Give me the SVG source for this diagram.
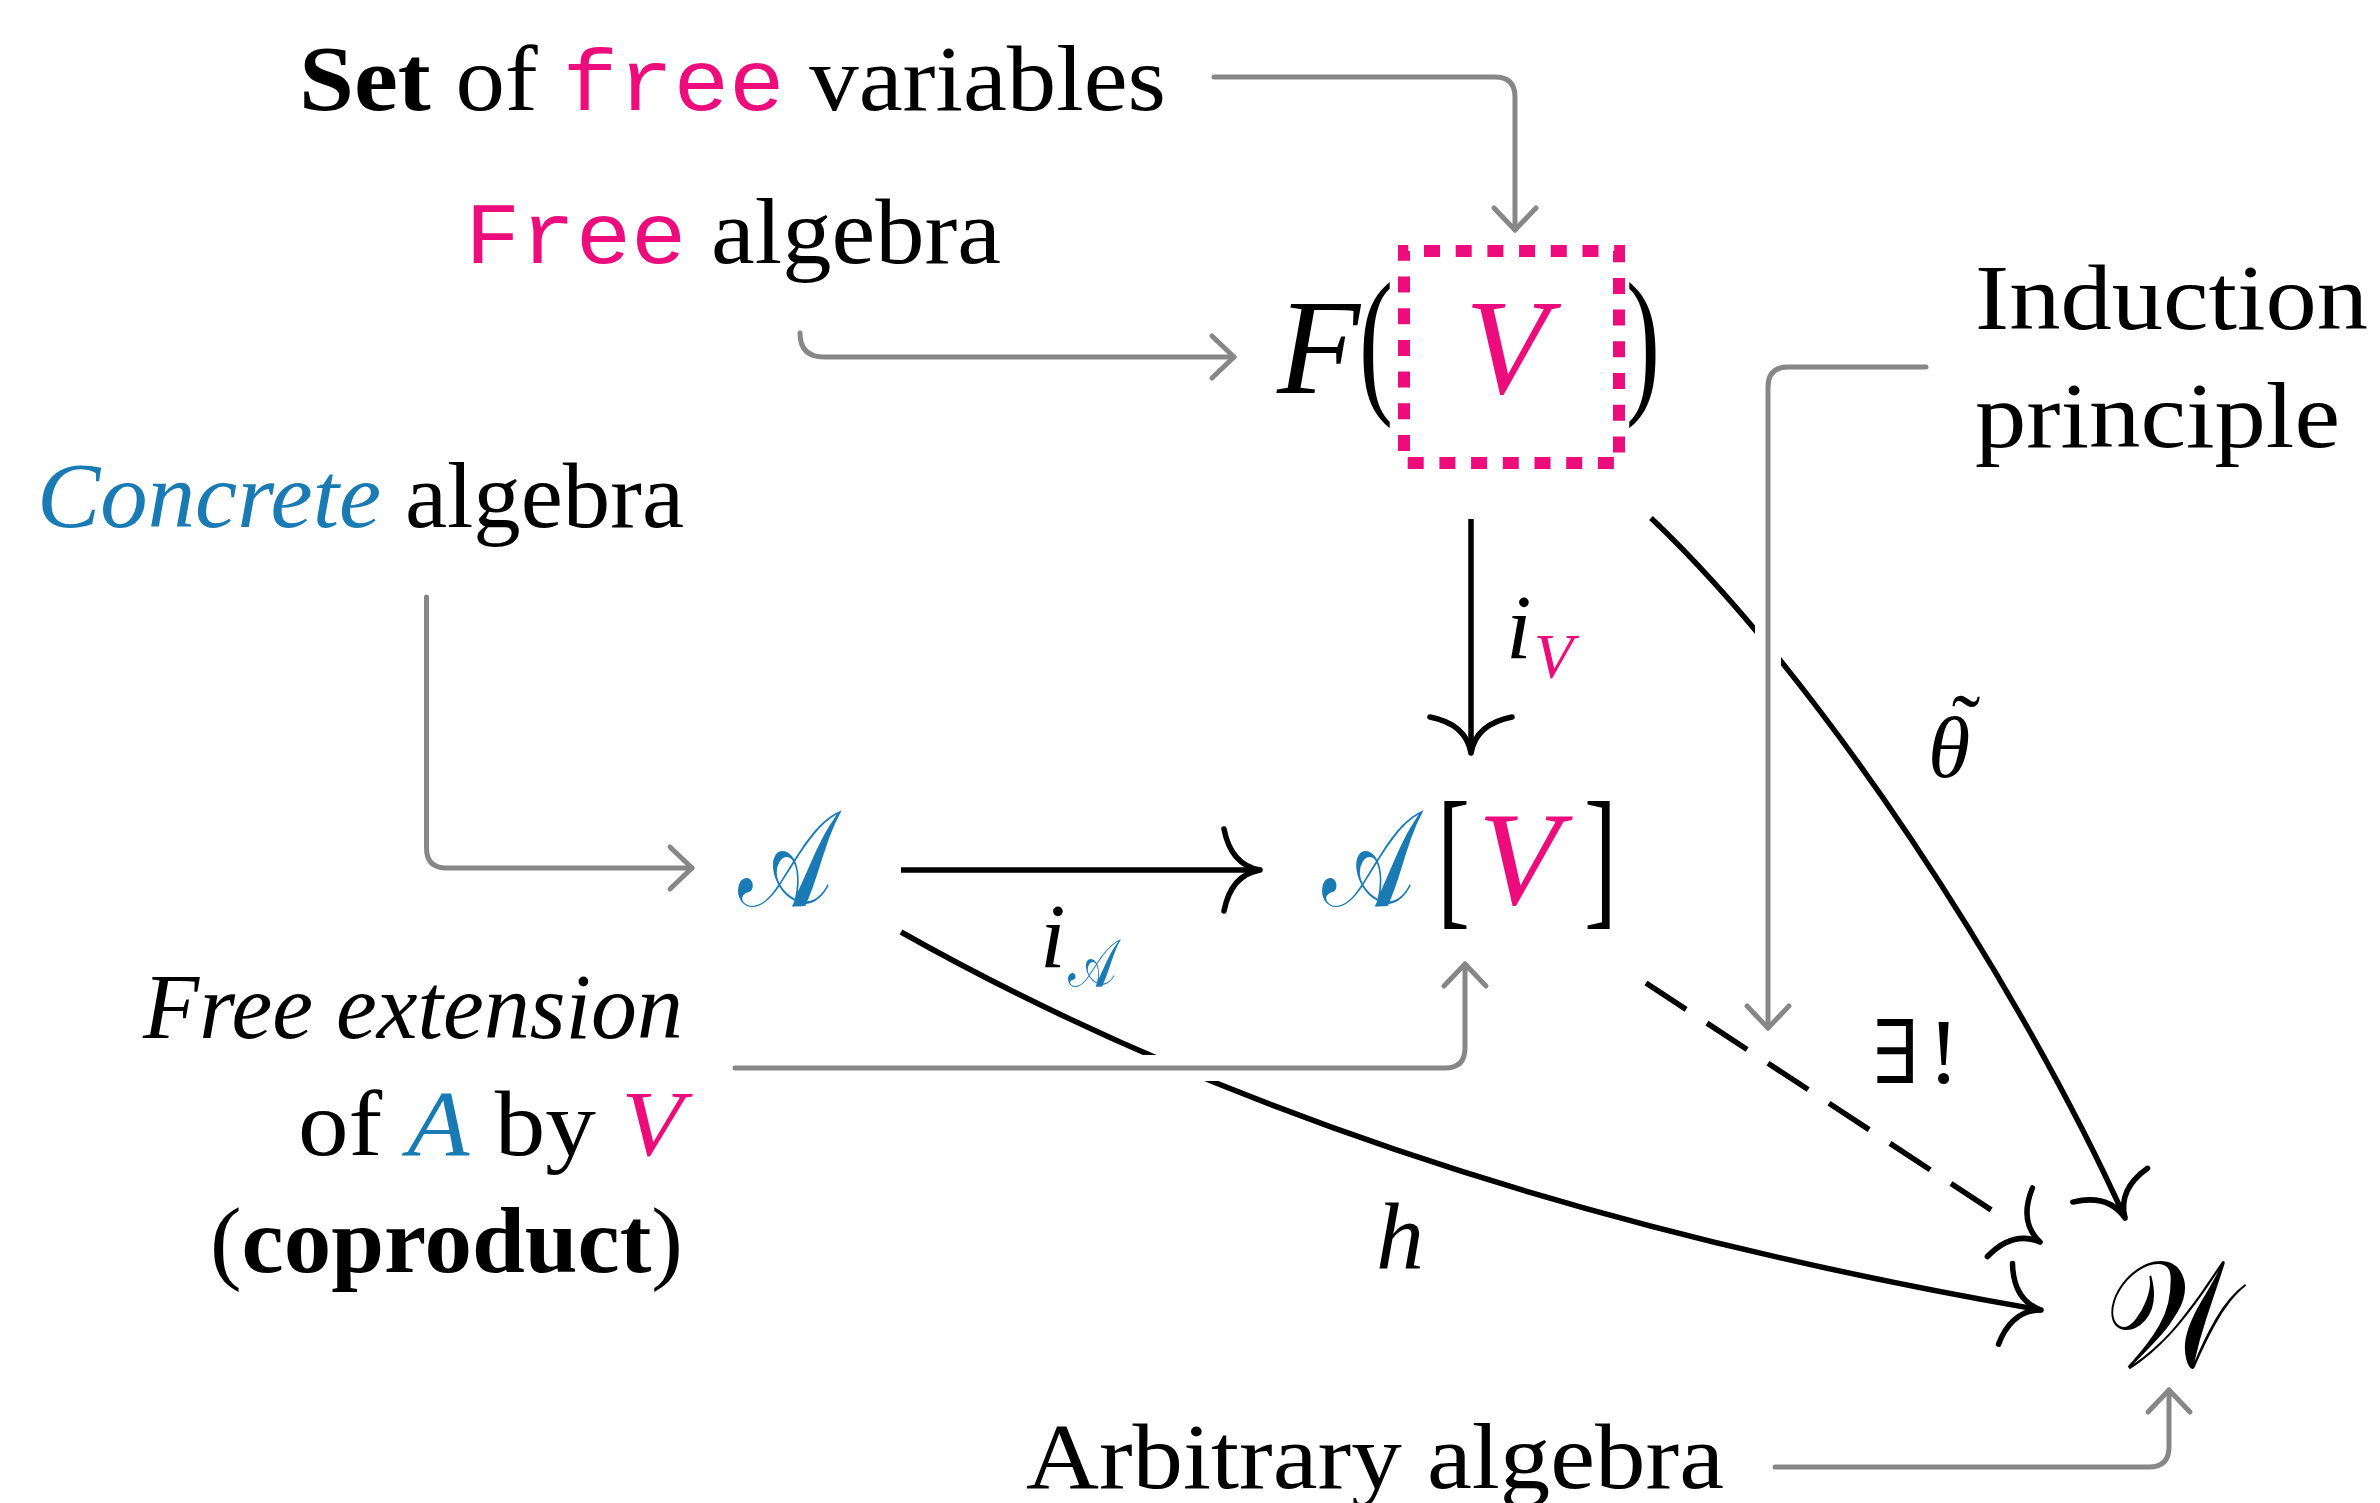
<svg xmlns="http://www.w3.org/2000/svg" width="2380" height="1503" viewBox="0 0 2380 1503">
<style>
.t{font-family:"Liberation Serif","Times New Roman",serif;font-size:94px;fill:#000}
.it{font-style:italic}
.b{font-weight:bold}
.mono{font-family:"Liberation Mono","Courier New",monospace;font-size:88px}
.pk{fill:#EC0C7C}
.bl{fill:#1A7AB4}
.cal{font-family:"DejaVu Serif","DejaVu Sans","Noto Sans",serif;font-style:normal}
.gray{fill:none;stroke:#878787;stroke-width:5;stroke-linecap:round;stroke-linejoin:round}
.halo{fill:none;stroke:#fff;stroke-width:26}
.blk{fill:none;stroke:#000;stroke-width:5.5}
</style>
<defs>
<marker id="ah" markerUnits="userSpaceOnUse" viewBox="-50 -50 60 100" markerWidth="60" markerHeight="100" refX="0" refY="0" orient="auto" overflow="visible">
<path d="M-36,-41 Q-29,-5 0,0 M-36,41 Q-29,5 0,0" fill="none" stroke="#000" stroke-width="5.5" stroke-linecap="round"/>
</marker>
<marker id="gh" markerUnits="userSpaceOnUse" viewBox="-30 -30 40 60" markerWidth="40" markerHeight="60" refX="0" refY="0" orient="auto" overflow="visible">
<path d="M-22,-21 L0,0 L-22,21" fill="none" stroke="#878787" stroke-width="5" stroke-linecap="round" stroke-linejoin="round"/>
</marker>
</defs>
<rect width="2380" height="1503" fill="#fff"/>

<g id="connectors">
<path class="blk" d="M1471,519 L1471,753" marker-end="url(#ah)"/>
<path class="blk" d="M901,870 L1260,870" marker-end="url(#ah)"/>
<path class="blk" d="M1651,518 C1819,677 2018,981 2125,1218" marker-end="url(#ah)"/>
<path class="blk" d="M1646,983 L2040,1242" stroke-dasharray="48 25 48 25 48 25 48 25 48 25 48 62" marker-end="url(#ah)"/>
<path class="blk" d="M901,932 C1249,1128 1647,1242 2041,1310" marker-end="url(#ah)"/>
<path class="halo" d="M1926,367 H1788 Q1768,367 1768,387 V1028"/>
<path class="halo" d="M735,1068 H1445 Q1465,1068 1465,1048 V964"/>
<path class="gray" d="M1214,77 H1495 Q1515,77 1515,97 V230" marker-end="url(#gh)"/>
<path class="gray" d="M800,333 Q800,357 824,357 H1234" marker-end="url(#gh)"/>
<path class="gray" d="M1926,367 H1788 Q1768,367 1768,387 V1028" marker-end="url(#gh)"/>
<path class="gray" d="M426.5,597 V848 Q426.5,868 446.5,868 H692" marker-end="url(#gh)"/>
<path class="gray" d="M735,1068 H1445 Q1465,1068 1465,1048 V964" marker-end="url(#gh)"/>
<path class="gray" d="M1775,1467 H2149 Q2169,1467 2169,1447 V1390" marker-end="url(#gh)"/>
</g>

<g id="labels">
<text class="t it" x="1040" y="967" style="font-size:92px">i</text>
<text class="t cal bl" x="1068" y="986" style="font-size:66px" textLength="48" lengthAdjust="spacingAndGlyphs">𝒜</text>
<text class="t it" x="1506" y="658" style="font-size:92px">i</text>
<text class="t it pk" x="1534" y="678" style="font-size:64px">V</text>
<text class="t it" x="1928" y="777" style="font-size:86px">θ</text>
<text class="t" x="1966" y="755" style="font-size:86px" text-anchor="middle">˜</text>
<text class="t" x="1872" y="1083" style="font-size:88px;font-family:'DejaVu Serif',serif">∃</text>
<text class="t" x="1928" y="1083">!</text>
<text class="t it" x="1376" y="1269" style="font-size:96px">h</text>
</g>

<g id="n-setvars">
<text class="t" x="299" y="110" textLength="867" lengthAdjust="spacingAndGlyphs"><tspan class="b">Set</tspan> of <tspan class="mono pk">free</tspan> variables</text>
</g>
<g id="n-freealg">
<text class="t" x="465" y="263" textLength="536" lengthAdjust="spacingAndGlyphs"><tspan class="mono pk">Free</tspan> algebra</text>
</g>
<g id="n-FV">
<text class="t it" x="1277" y="393" style="font-size:136px">F</text>
<text class="t" x="1359" y="394" style="font-size:162px" textLength="34" lengthAdjust="spacingAndGlyphs">(</text>
<rect x="1404" y="251" width="215" height="212" fill="none" stroke="#EC0C7C" stroke-width="12" stroke-dasharray="16 15.7" stroke-dashoffset="11.7"/>
<text class="t it pk" x="1465" y="393" style="font-size:136px">V</text>
<text class="t" x="1626" y="394" style="font-size:162px" textLength="34" lengthAdjust="spacingAndGlyphs">)</text>
</g>
<g id="n-induction">
<text class="t" x="1975" y="329" textLength="393" lengthAdjust="spacingAndGlyphs">Induction</text>
<text class="t" x="1975" y="447" textLength="365" lengthAdjust="spacingAndGlyphs">principle</text>
</g>
<g id="n-concrete">
<text class="t" x="37" y="527" textLength="647" lengthAdjust="spacingAndGlyphs"><tspan class="it bl">Concrete</tspan> algebra</text>
</g>
<g id="n-A">
<text class="t cal bl" x="738" y="906" style="font-size:136px" textLength="95" lengthAdjust="spacingAndGlyphs">𝒜</text>
</g>
<g id="n-AV">
<text class="t cal bl" x="1322" y="906" style="font-size:136px" textLength="93" lengthAdjust="spacingAndGlyphs">𝒜</text>
<text class="t" x="1437" y="908" style="font-size:155px" textLength="33" lengthAdjust="spacingAndGlyphs">[</text>
<text class="t it pk" x="1478" y="904" style="font-size:134px">V</text>
<text class="t" x="1584" y="908" style="font-size:155px" textLength="33" lengthAdjust="spacingAndGlyphs">]</text>
</g>
<g id="n-freeext">
<text class="t it" x="143" y="1038" textLength="540" lengthAdjust="spacingAndGlyphs">Free extension</text>
<text class="t" x="298" y="1155" textLength="385" lengthAdjust="spacingAndGlyphs">of <tspan class="it bl">A</tspan> by <tspan class="it pk">V</tspan></text>
<text class="t" x="210" y="1272" textLength="473" lengthAdjust="spacingAndGlyphs">(<tspan class="b">coproduct</tspan>)</text>
</g>
<g id="n-W">
<text class="t cal" x="2105" y="1367" style="font-size:150px" textLength="132" lengthAdjust="spacingAndGlyphs">𝒲</text>
</g>
<g id="n-arbitrary">
<text class="t" x="1026" y="1488" textLength="698" lengthAdjust="spacingAndGlyphs">Arbitrary algebra</text>
</g>
</svg>
